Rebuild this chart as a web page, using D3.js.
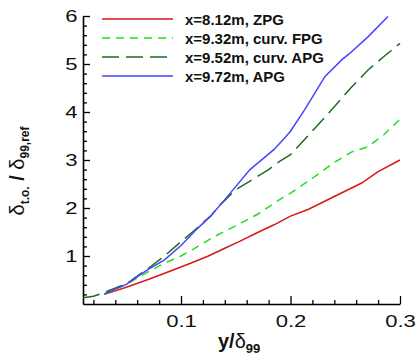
<!DOCTYPE html>
<html>
<head>
<meta charset="utf-8">
<script src="https://cdn.jsdelivr.net/npm/d3@7"></script>
<style>
  body { margin: 0; background: #fff; }
  text { font-family: "Liberation Sans", Arial, sans-serif; }
</style>
</head>
<body>
<div id="container"></div>
<script>
/* chart size and plot box */
const width = 416;
const height = 358;
const plotLeft = 83, plotRight = 400, plotTop = 16, plotBottom = 304;
const labelStretch = 1.3; /* tick digits in the figure are wide */

/* data: y/delta99 vs delta_t.o./delta99,ref */
const seriesNames = ["x=8.12m, ZPG", "x=9.32m, curv. FPG", "x=9.52m, curv. APG", "x=9.72m, APG"];
const zpgX = [0.03, 0.05, 0.07, 0.085, 0.1, 0.111, 0.125, 0.139, 0.154, 0.169, 0.185, 0.2, 0.216, 0.24, 0.265, 0.28, 0.3];
const zpgY = [0.20, 0.35, 0.51, 0.64, 0.77, 0.87, 1.00, 1.15, 1.31, 1.48, 1.65, 1.83, 1.97, 2.24, 2.52, 2.76, 3.00];
const fpgX = [0.03, 0.05, 0.07, 0.085, 0.1, 0.111, 0.13, 0.15, 0.17, 0.195, 0.2, 0.22, 0.24, 0.256, 0.27, 0.285, 0.3];
const fpgY = [0.21, 0.41, 0.67, 0.85, 1.00, 1.14, 1.40, 1.63, 1.87, 2.25, 2.31, 2.62, 2.95, 3.17, 3.27, 3.52, 3.85];
const capgX = [0.0105, 0.02, 0.03, 0.05, 0.07, 0.085, 0.1, 0.111, 0.127, 0.136, 0.15, 0.165, 0.18, 0.19, 0.2, 0.204, 0.225, 0.24, 0.255, 0.271, 0.285, 0.3];
const capgY = [0.13, 0.16, 0.24, 0.42, 0.74, 1.00, 1.30, 1.51, 1.83, 2.07, 2.38, 2.59, 2.80, 2.97, 3.11, 3.21, 3.73, 4.11, 4.50, 4.88, 5.15, 5.43];
const apgX = [0.03, 0.05, 0.07, 0.085, 0.1, 0.114, 0.127, 0.145, 0.163, 0.172, 0.185, 0.195, 0.2, 0.213, 0.2315, 0.247, 0.254, 0.271, 0.289];
const apgY = [0.21, 0.41, 0.72, 0.92, 1.22, 1.55, 1.83, 2.31, 2.80, 2.97, 3.22, 3.47, 3.60, 4.05, 4.74, 5.09, 5.22, 5.57, 5.99];
const xTicks = [0.1, 0.2, 0.3];
const yTicks = [1, 2, 3, 4, 5, 6];

const series = [
  { name: seriesNames[0], xs: zpgX, ys: zpgY, color: "#d81818", dash: null },
  { name: seriesNames[1], xs: fpgX, ys: fpgY, color: "#22dd22", dash: "8,6" },
  { name: seriesNames[2], xs: capgX, ys: capgY, color: "#1f6b1f", dash: "17,7" },
  { name: seriesNames[3], xs: apgX, ys: apgY, color: "#4545ff", dash: null }
];

const svg = d3.select("#container").append("svg")
  .attr("width", width)
  .attr("height", height);

/* scales */
const xScale = d3.scaleLinear().domain([0.0105, 0.3]).range([plotLeft, plotRight]);
const yScale = d3.scaleLinear().domain([0, 6]).range([plotBottom, plotTop]);

/* minor ticks first (inward, short) */
const xMinor = d3.range(0.02, 0.301, 0.02).filter(v => Math.abs(v * 10 - Math.round(v * 10)) > 1e-6);
const yMinor = d3.range(0.2, 6.01, 0.2).filter(v => Math.abs(v - Math.round(v)) > 1e-6);

svg.append("g")
  .attr("transform", `translate(0,${plotBottom})`)
  .call(d3.axisBottom(xScale).tickValues(xMinor).tickSize(-4).tickFormat(""))
  .call(g => g.select(".domain").remove())
  .selectAll("line").attr("stroke-width", 1.3);

svg.append("g")
  .attr("transform", `translate(${plotLeft},0)`)
  .call(d3.axisLeft(yScale).tickValues(yMinor).tickSize(-4).tickFormat(""))
  .call(g => g.select(".domain").remove())
  .selectAll("line").attr("stroke-width", 1.3);

/* major axes */
const xAxis = svg.append("g")
  .attr("transform", `translate(0,${plotBottom})`)
  .call(d3.axisBottom(xScale).tickValues(xTicks).tickSize(-8).tickSizeOuter(0).tickPadding(11).tickFormat(d3.format(".1f")));
xAxis.select(".domain").attr("stroke-width", 1.6);
xAxis.selectAll("line").attr("stroke-width", 1.3);
xAxis.selectAll("text")
  .attr("font-size", 17)
  .attr("fill", "#111")
  .attr("transform", `scale(${labelStretch},1)`);

const yAxis = svg.append("g")
  .attr("transform", `translate(${plotLeft},0)`)
  .call(d3.axisLeft(yScale).tickValues(yTicks).tickSize(-7).tickSizeOuter(0).tickFormat(d3.format("d")));
yAxis.select(".domain").attr("stroke-width", 1.6);
yAxis.selectAll("line").attr("stroke-width", 1.3);
yAxis.selectAll("text")
  .attr("font-size", 17)
  .attr("fill", "#111")
  .attr("x", -5.5 / labelStretch)
  .attr("transform", `scale(${labelStretch},1)`);

/* curves */
const line = d3.line()
  .x(d => xScale(d[0]))
  .y(d => yScale(d[1]));

svg.append("g").selectAll("path")
  .data(series)
  .join("path")
  .attr("d", s => line(s.xs.map((x, i) => [x, s.ys[i]])))
  .attr("fill", "none")
  .attr("stroke", s => s.color)
  .attr("stroke-width", 1.5)
  .attr("stroke-dasharray", s => s.dash);

/* legend */
const legend = svg.append("g");
series.forEach((s, i) => {
  const y = 19 + i * 19;
  legend.append("line")
    .attr("x1", 102).attr("x2", 173)
    .attr("y1", y).attr("y2", y)
    .attr("stroke", s.color)
    .attr("stroke-width", 1.5)
    .attr("stroke-dasharray", s.dash);
  legend.append("text")
    .attr("x", 185).attr("y", y + 5.5)
    .attr("font-size", 15)
    .attr("font-weight", "bold")
    .attr("fill", "#111")
    .text(s.name);
});

/* axis titles */
const xt = svg.append("text")
  .attr("x", 218).attr("y", 348)
  .attr("font-size", 20)
  .attr("fill", "#111");
xt.append("tspan").attr("font-weight", "bold").text("y/");
xt.append("tspan").text("δ");
xt.append("tspan").attr("font-weight", "bold").attr("font-size", 13).attr("dy", 5).text("99");

const yt = svg.append("text")
  .attr("transform", "translate(24,171) rotate(-90)")
  .attr("text-anchor", "middle")
  .attr("font-size", 20)
  .attr("fill", "#111");
yt.append("tspan").text("δ");
yt.append("tspan").attr("font-weight", "bold").attr("font-size", 12).attr("dy", 5).text("t.o.");
yt.append("tspan").attr("font-weight", "bold").attr("dy", -5).text(" / ");
yt.append("tspan").text("δ");
yt.append("tspan").attr("font-weight", "bold").attr("font-size", 12).attr("dy", 5).text("99,ref");
</script>
</body>
</html>
